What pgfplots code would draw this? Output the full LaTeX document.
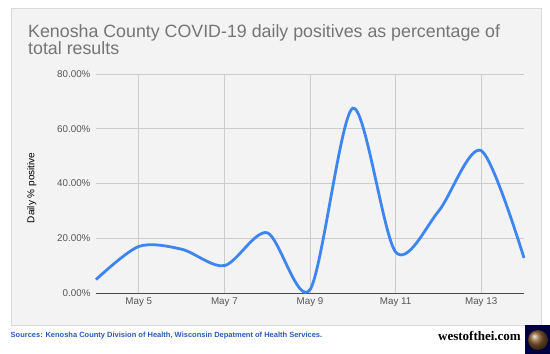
\documentclass[border=0pt]{standalone}
\usepackage{pgfplots}
\pgfplotsset{compat=1.18}
\usepackage{fontspec}
\setmainfont{Liberation Sans}
\newfontfamily\serifbold{Liberation Serif}
\definecolor{panelbg}{HTML}{F3F3F3}
\definecolor{panelborder}{HTML}{DADADA}
\definecolor{titlegray}{HTML}{757575}
\definecolor{tickgray}{HTML}{555555}
\definecolor{gridgray}{HTML}{CCCCCC}
\definecolor{lineblue}{HTML}{3D85F0}
\definecolor{srcblue}{HTML}{2A5CB8}
\begin{document}
\begin{tikzpicture}
\useasboundingbox (0pt,0pt) rectangle (550pt,354pt);
\fill[white] (0pt,0pt) rectangle (550pt,354pt);
\fill[panelbg,draw=panelborder,line width=0.8pt] (11pt,29pt) rectangle (541pt,346pt);
\node[anchor=north west,align=left,text=titlegray,font=\fontsize{17.8}{17.5}\selectfont,inner sep=0pt] at (28pt,330pt) {Kenosha County COVID-19 daily positives as percentage of\\total results};
\begin{axis}[
  at={(96pt,61pt)}, anchor=south west,
  scale only axis, width=428pt, height=219pt,
  xmin=4, xmax=14, ymin=0, ymax=80,
  xtick={5,7,9,11,13},
  xticklabels={May 5,May 7,May 9,May 11,May 13},
  ytick={0,20,40,60,80},
  yticklabel={\pgfmathprintnumber[fixed,fixed zerofill,precision=2]{\tick}\%},
  /pgf/number format/assume math mode=true,
  major tick length=0pt,
  grid=major,
  major grid style={gridgray,line width=0.7pt},
  axis x line*=bottom, axis y line*=left,
  y axis line style={draw=none},
  x axis line style={draw=black!70,line width=1pt,-},
  tick label style={font=\fontsize{9.8}{11}\selectfont,text=tickgray},
  xticklabel style={yshift=-1pt},
  yticklabel style={xshift=-2pt},
  ylabel={Daily \% positive},
  ylabel style={font=\fontsize{9}{10}\selectfont,text=black!80},
  every axis y label/.style={at={(ticklabel cs:0.48,14pt)},rotate=90,anchor=near ticklabel},
  clip=false,
]
\addplot[lineblue,line width=2.8pt,smooth,tension=0.5] coordinates {
 (4,4.9) (5,17) (6,16) (7,10) (8,22) (9,1.2) (10,67.5) (11,15) (12,29.8) (13,52) (14,12.8)
};
\end{axis}
\node[anchor=west,text=srcblue,font=\bfseries\fontsize{7.5}{8}\selectfont,inner sep=0pt] at (10.5pt,18pt) {Sources: Kenosha County Division of Health, Wisconsin Depatment of Health Services.};
\node[anchor=east,font=\serifbold\bfseries\fontsize{13}{13}\selectfont,inner sep=0pt] at (521pt,18pt) {westofthei.com};
\fill[black!75!blue] (525pt,0pt) rectangle (550pt,29pt);
\shade[ball color=brown!70!black] (538pt,14pt) circle (10pt);
\end{tikzpicture}
\end{document}
